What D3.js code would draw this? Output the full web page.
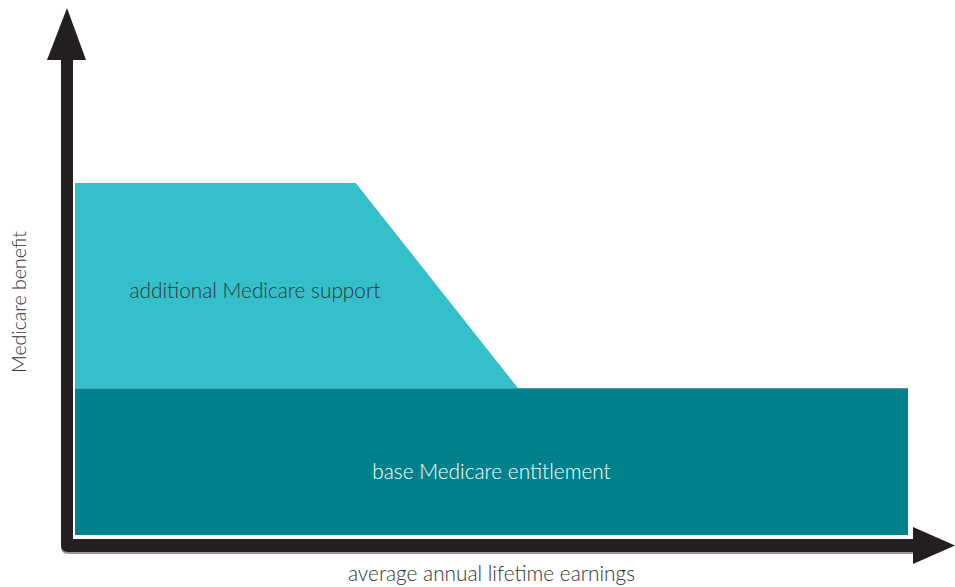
<!DOCTYPE html>
<html>
<head>
<meta charset="utf-8">
<script src="https://cdn.jsdelivr.net/npm/d3@7"></script>
<style>
  body { margin: 0; background: #fff; }
  text { font-family: Lato, "Open Sans", sans-serif; font-weight: 300; }
</style>
</head>
<body>
<div id="chart"></div>
<script>
// Data (schematic units)
const earnings = [0, 33.7, 53.2, 100];      // average annual lifetime earnings, % of range
const support = [1.4, 1.4, 0, 0];          // additional Medicare support on top of base
const baseBenefit = 1;                     // base Medicare entitlement
const labels = {
  support: "additional Medicare support",
  base: "base Medicare entitlement",
  xTitle: "average annual lifetime earnings",
  yTitle: "Medicare benefit"
};

const W = 955, H = 587;
const svg = d3.select("#chart")
  .append("svg")
  .attr("width", W)
  .attr("height", H);

// Scales
const x = d3.scaleLinear().domain([0, 100]).range([75, 908]);
const y = d3.scaleLinear().domain([0, 2.4]).range([535, 183]);

// Base entitlement area
const baseArea = d3.area()
  .x(d => x(d))
  .y0(y(0))
  .y1(y(baseBenefit));
svg.append("path")
  .datum([0, 100])
  .attr("d", baseArea)
  .attr("fill", "#01818b");

// Additional support area
const supArea = d3.area()
  .x((d, i) => x(earnings[i]))
  .y0(y(baseBenefit))
  .y1((d) => y(baseBenefit + d));
svg.append("path")
  .datum(support)
  .attr("d", supArea)
  .attr("fill", "#33c0cb");

// Axes (thick arrows)
const axisColor = "#231f20";
// shadow
svg.append("path")
  .attr("d", "M61,62 L73,62 L73,541 L913,541 L913,554 L68,554 Q61,554 61,547 Z")
  .attr("fill", "#9a9a9a");
svg.append("path")
  .attr("d", "M61,60 L73,60 L73,539 L913,539 L913,552 L68,552 Q61,552 61,545 Z")
  .attr("fill", axisColor);
// arrow heads
svg.append("path")
  .attr("d", "M67,8 L86,60 L47,60 Z")
  .attr("fill", axisColor);
svg.append("path")
  .attr("d", "M955,545.5 L913,527 L913,564 Z")
  .attr("fill", axisColor);

// Labels
svg.append("text")
  .attr("x", x(21.6))
  .attr("y", y(baseBenefit + 0.65))
  .attr("text-anchor", "middle")
  .attr("dominant-baseline", "middle")
  .attr("font-size", "20.8px")
  .attr("fill", "#333333")
  .text(labels.support);

svg.append("text")
  .attr("x", x(50))
  .attr("y", y(baseBenefit * 0.415))
  .attr("text-anchor", "middle")
  .attr("dominant-baseline", "middle")
  .attr("font-size", "20.8px")
  .attr("fill", "#ffffff")
  .text(labels.base);

svg.append("text")
  .attr("x", x(50))
  .attr("y", 576)
  .attr("text-anchor", "middle")
  .attr("dominant-baseline", "middle")
  .attr("font-size", "20.8px")
  .attr("fill", "#333333")
  .text(labels.xTitle);

svg.append("text")
  .attr("transform", "translate(21,302) rotate(-90)")
  .attr("text-anchor", "middle")
  .attr("dominant-baseline", "middle")
  .attr("font-size", "19.5px")
  .attr("fill", "#333333")
  .text(labels.yTitle);
</script>
</body>
</html>
